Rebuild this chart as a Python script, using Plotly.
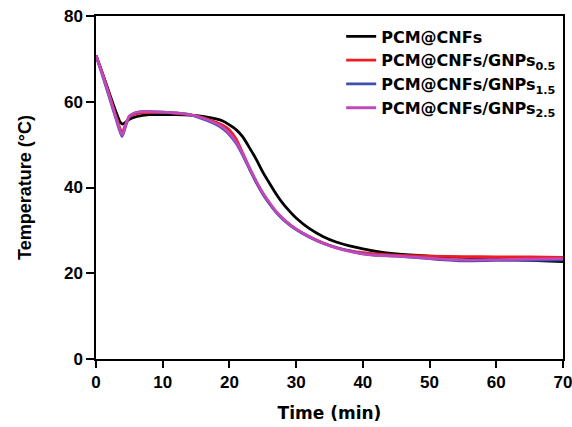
import plotly.graph_objects as go

names = ["PCM@CNFs", "PCM@CNFs/GNPs<sub>0.5</sub>", "PCM@CNFs/GNPs<sub>1.5</sub>", "PCM@CNFs/GNPs<sub>2.5</sub>"]
colors = ["#000000", "#ee1c24", "#3f4fb0", "#c048b8"]

x_black = [0, 1, 2, 3, 3.6, 4, 4.5, 5, 6, 7, 8, 10, 12, 14, 16, 18, 19, 20, 21, 22, 23, 24, 25, 26, 27, 28, 29, 30, 32, 34, 36, 38, 40, 42, 45, 50, 55, 60, 65, 70]
y_black = [70.8, 66.5, 62.0, 57.6, 55.3, 54.8, 55.3, 55.9, 56.5, 56.8, 57.0, 57.0, 57.0, 56.9, 56.6, 56.0, 55.5, 54.6, 53.5, 51.8, 49.3, 46.6, 43.6, 41.0, 38.5, 36.3, 34.5, 32.9, 30.4, 28.6, 27.3, 26.4, 25.7, 25.1, 24.5, 24.0, 23.7, 23.4, 23.0, 22.7]

x_red = [0, 1, 2, 3, 3.9, 4.5, 5, 6, 7, 8, 10, 12, 14, 16, 18, 19, 20, 21, 22, 23, 24, 25, 26, 27, 28, 29, 30, 32, 34, 36, 38, 40, 42, 45, 50, 55, 60, 65, 70]
y_red = [70.8, 66.5, 61.6, 56.6, 52.8, 55.0, 56.4, 57.2, 57.4, 57.5, 57.5, 57.3, 57.0, 56.3, 55.2, 54.5, 53.4, 51.3, 48.0, 44.6, 41.4, 38.6, 36.3, 34.3, 32.7, 31.4, 30.3, 28.5, 27.1, 26.0, 25.3, 24.8, 24.5, 24.2, 24.0, 23.9, 23.8, 23.8, 23.7]

x_blue = [0, 1, 2, 3, 3.9, 4.5, 5, 6, 7, 8, 10, 12, 14, 16, 18, 19, 20, 21, 22, 23, 24, 25, 26, 27, 28, 29, 30, 32, 34, 36, 38, 40, 42, 45, 50, 55, 60, 65, 70]
y_blue = [70.8, 66.0, 61.0, 56.0, 51.9, 54.6, 56.6, 57.5, 57.7, 57.7, 57.6, 57.4, 57.0, 56.0, 54.7, 53.7, 52.3, 50.3, 47.5, 44.3, 41.2, 38.5, 36.2, 34.2, 32.6, 31.3, 30.2, 28.4, 27.0, 26.0, 25.2, 24.5, 24.2, 24.0, 23.4, 22.9, 23.0, 23.0, 23.1]

x_mag = [0, 1, 2, 3, 3.9, 4.5, 5, 6, 7, 8, 10, 12, 14, 16, 18, 19, 20, 21, 22, 23, 24, 25, 26, 27, 28, 29, 30, 32, 34, 36, 38, 40, 42, 45, 50, 55, 60, 65, 70]
y_mag = [70.8, 66.2, 61.3, 56.3, 52.2, 54.8, 56.7, 57.5, 57.7, 57.7, 57.6, 57.4, 57.0, 56.2, 54.9, 54.0, 52.6, 50.6, 47.8, 44.6, 41.5, 38.8, 36.5, 34.4, 32.8, 31.4, 30.3, 28.5, 27.0, 25.9, 25.1, 24.5, 24.2, 24.0, 23.5, 23.1, 23.2, 23.3, 23.4]

series = [(x_black, y_black), (x_red, y_red), (x_blue, y_blue), (x_mag, y_mag)]

fig = go.Figure()
for (xs, ys), nm, c in zip(series, names, colors):
    fig.add_trace(go.Scatter(x=xs, y=ys, mode="lines", name="<b>" + nm + "</b>",
                             line=dict(color=c, width=2.8, shape="spline", smoothing=0.6)))

font_family = "Liberation Sans, Arial, sans-serif"
wide_family = "DejaVu Sans, Verdana, sans-serif"
fig.update_layout(
    width=572, height=427,
    margin=dict(l=96, r=9, t=16, b=68, autoexpand=False),
    autosize=False,
    paper_bgcolor="white", plot_bgcolor="white",
    font=dict(family=font_family, color="black"),
    showlegend=True,
    legend=dict(x=0.525, y=0.99, xanchor="left", yanchor="top",
                bgcolor="rgba(0,0,0,0)", font=dict(size=16, family=wide_family, color="black"),
                tracegroupgap=0, itemwidth=30),
    xaxis=dict(range=[0, 70], tickvals=[0, 10, 20, 30, 40, 50, 60, 70],
               showgrid=False, zeroline=False, showline=True, linecolor="black", linewidth=1.5,
               mirror=True, ticks="outside", ticklen=7, tickwidth=1.5, tickcolor="black",
               ticklabeloverflow="allow",
               tickfont=dict(size=17, family=font_family, color="black", weight="bold"),
               title=dict(text="<b>Time (min)</b>", font=dict(size=17, family=wide_family), standoff=16)),
    yaxis=dict(range=[0, 80], tickvals=[0, 20, 40, 60, 80],
               showgrid=False, zeroline=False, showline=True, linecolor="black", linewidth=1.5,
               mirror=True, ticks="outside", ticklen=8, tickwidth=1.5, tickcolor="black",
               ticklabeloverflow="allow",
               tickfont=dict(size=17, family=font_family, color="black", weight="bold"),
               title=dict(text="<b>Temperature (°C)</b>", font=dict(size=18, family=font_family), standoff=28)),
)

fig.write_html("out.html", config={"responsive": False})
